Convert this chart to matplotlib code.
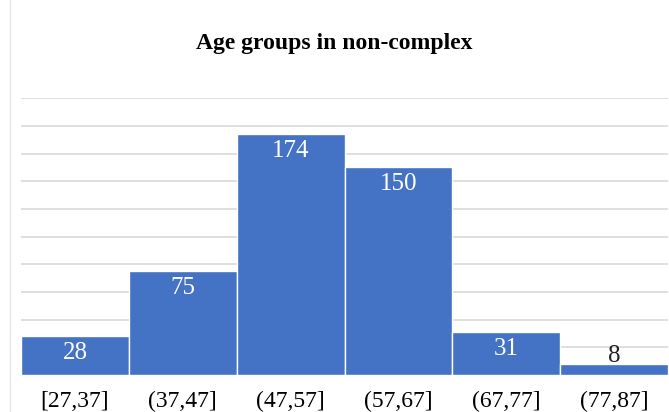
import matplotlib
matplotlib.use("Agg")
import matplotlib.pyplot as plt
from matplotlib.lines import Line2D

# Data
age_groups = ["[27,37]", "(37,47]", "(47,57]", "(57,67]", "(67,77]", "(77,87]"]
counts = [28, 75, 174, 150, 31, 8]

BAR_COLOR = "#4472C4"
GRID_COLOR = "#D9D9D9"
plt.rcParams["font.family"] = ["Liberation Serif", "DejaVu Serif"]

fig = plt.figure(figsize=(6.69, 4.12), dpi=100)
ax = fig.add_axes([0.0314, 0.0898, 0.9672, 0.672])

x = list(range(len(counts)))
ax.bar(x, counts, width=1.0, color=BAR_COLOR, edgecolor="white", linewidth=1.0, zorder=3)

ax.set_xlim(-0.5, len(counts) - 0.5)
ax.set_ylim(0, 200)
ax.set_yticks(range(0, 201, 20))
ax.yaxis.grid(True, color=GRID_COLOR, linewidth=1.2, zorder=0)
ax.tick_params(axis="y", left=False, labelleft=False)
ax.tick_params(axis="x", bottom=False, labelsize=17, pad=8, colors="black")
ax.set_xticks(x)
ax.set_xticklabels(age_groups)
for s in ax.spines.values():
    s.set_visible(False)

# value labels
for xi, v in zip(x, counts):
    if v < 15:
        ax.annotate(str(v), (xi, v), xytext=(0, -2.5), textcoords="offset points",
                    ha="center", va="bottom", fontsize=18, color="#222222")
    else:
        ax.annotate(str(v), (xi, v), xytext=(0, -4), textcoords="offset points",
                    ha="center", va="top", fontsize=18, color="white")

fig.text(0.5, 0.895, "Age groups in non-complex", ha="center", va="center",
         fontsize=17, fontweight="bold")

# chart frame edge on the left
fig.add_artist(Line2D([10 / 669, 10 / 669], [0, 1], transform=fig.transFigure,
                      color="#E6E6E6", linewidth=1))

fig.savefig("out.png", dpi=100, facecolor="white")
